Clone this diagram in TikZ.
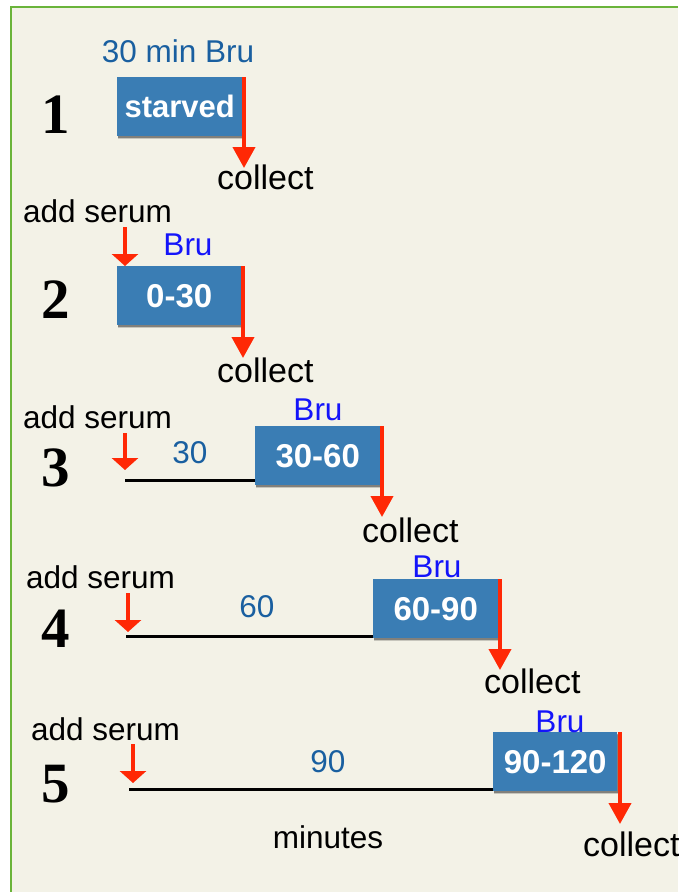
\documentclass[tikz,border=0pt]{standalone}
\usepackage{fontspec}
\setmainfont{Liberation Sans}
\newfontfamily\rowfont{Liberation Serif}
\usetikzlibrary{arrows.meta,shadows}

\definecolor{paper}{RGB}{243,242,231}
\definecolor{frame}{RGB}{106,180,58}
\definecolor{boxblue}{RGB}{58,125,180}
\definecolor{labelblue}{RGB}{25,95,160}
\definecolor{brublue}{RGB}{20,20,250}
\definecolor{arrowred}{RGB}{255,40,5}

\begin{document}
\begin{tikzpicture}[x=1pt,y=-1pt,
  txt/.style={inner sep=0pt, font=\fontsize{31.5}{36}\selectfont},
  plain/.style={txt, anchor=base west, text=black},
  collectlbl/.style={inner sep=0pt, anchor=base west, text=black, font=\fontsize{34}{38}\selectfont},
  dur/.style={txt, anchor=base, text=labelblue},
  bru/.style={txt, anchor=base, text=brublue},
  rowno/.style={inner sep=0pt, anchor=base, font=\rowfont\bfseries\fontsize{57}{60}\selectfont},
  period/.style={fill=boxblue, inner sep=0pt, anchor=north west,
    minimum height=59pt, text=white,
    font=\bfseries\fontsize{33}{38}\selectfont,
    drop shadow={shadow xshift=0.6pt, shadow yshift=-3pt, opacity=0.18, fill=black},
    drop shadow={shadow xshift=0.4pt, shadow yshift=-1.8pt, opacity=0.35, fill=black}},
  collectarrow/.style={draw=arrowred, line width=4pt,
    -{Triangle[width=22pt,length=21pt]}},
  serumarrow/.style={draw=arrowred, line width=3.2pt,
    -{Triangle[width=26pt,length=12pt]}},
  timeline/.style={draw=black, line width=3pt}
]
% page, paper and frame
\useasboundingbox (0,0) rectangle (678,892);
\fill[white] (0,0) rectangle (678,892);
\fill[paper] (11,7) rectangle (678,892);
\draw[frame, line width=2.5pt] (11,892) -- (11,7) -- (678,7);

% ---- row 1
\node[rowno] (n1) at (56,133) {1};
\node[dur] (h1) at (178,62) {30 min Bru};
\node[period, minimum width=125pt, font=\bfseries\fontsize{31}{36}\selectfont, xshift=-2pt,
  text width=125pt, align=center] (b1) at (119,77) {starved};
\coordinate (k1) at (244,168);
\draw[collectarrow] (b1.north east -| k1) -- (k1);
\node[collectlbl] (c1) at (217,189) {collect};

% ---- row 2
\node[rowno] (n2) at (56,318) {2};
\node[plain] (a2) at (23,222) {add serum};
\node[bru] (h2) at (188,255) {Bru};
\node[period, minimum width=124pt] (b2) at (117,266) {0-30};
\coordinate (s2) at (125,227);
\draw[serumarrow] (s2) -- (s2 |- b2.north);
\coordinate (k2) at (243,358);
\draw[collectarrow] (b2.north east -| k2) -- (k2);
\node[collectlbl] (c2) at (217,382) {collect};

% ---- row 3
\node[rowno] (n3) at (56,486) {3};
\node[plain] (a3) at (23,428) {add serum};
\node[dur] (d3) at (190,463) {30};
\node[bru] (h3) at (318,420) {Bru};
\node[period, minimum width=125pt] (b3) at (255,426) {30-60};
\coordinate (s3) at (125,433);
\coordinate (e3) at (125,470);
\draw[serumarrow] (s3) -- (e3);
\coordinate (t3) at (125,480);
\draw[timeline] (t3) -- (t3 -| b3.west);
\coordinate (k3) at (382,517);
\draw[collectarrow] (b3.north east -| k3) -- (k3);
\node[collectlbl] (c3) at (362,542) {collect};

% ---- row 4
\node[rowno] (n4) at (56,647) {4};
\node[plain] (a4) at (26,588) {add serum};
\node[dur] (d4) at (257,617) {60};
\node[bru] (h4) at (437,577) {Bru};
\node[period, minimum width=125pt] (b4) at (373,579) {60-90};
\coordinate (s4) at (128,593);
\coordinate (e4) at (128,632);
\draw[serumarrow] (s4) -- (e4);
\coordinate (t4) at (126,636);
\draw[timeline] (t4) -- (t4 -| b4.west);
\coordinate (k4) at (500,670);
\draw[collectarrow] (b4.north east -| k4) -- (k4);
\node[collectlbl] (c4) at (484,693) {collect};

% ---- row 5
\node[rowno] (n5) at (56,802) {5};
\node[plain] (a5) at (31,740) {add serum};
\node[dur] (d5) at (328,772) {90};
\node[period, minimum width=124pt] (b5) at (493,732) {90-120};
\node[bru] (h5) at (560,732) {Bru};
\coordinate (s5) at (133,744);
\coordinate (e5) at (133,783);
\draw[serumarrow] (s5) -- (e5);
\coordinate (t5) at (129,789);
\draw[timeline] (t5) -- (t5 -| b5.west);
\coordinate (k5) at (620,824);
\draw[collectarrow] (b5.north east -| k5) -- (k5);
\node[collectlbl] (c5) at (583,856) {collect};
\node[txt, anchor=base] (m5) at (328,848) {minutes};
\end{tikzpicture}
\end{document}
